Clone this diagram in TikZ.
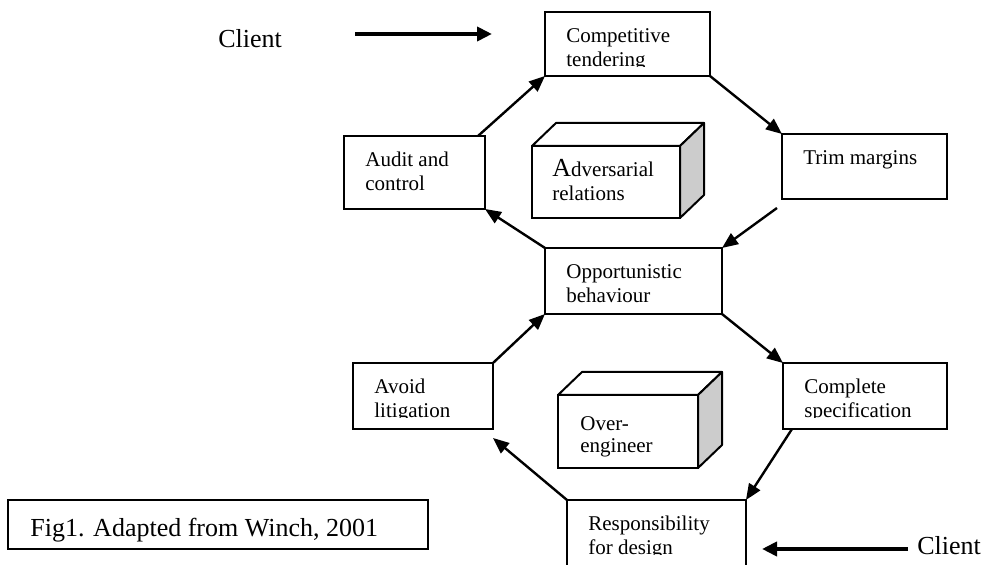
\documentclass[tikz,border=0pt]{standalone}
\usepackage{fontspec}
\setmainfont{Liberation Serif}
\usetikzlibrary{arrows.meta,positioning}

\tikzstyle{stage}=[draw, line width=1pt, inner sep=0pt, outer sep=0pt, anchor=north west]
\tikzstyle{stage-text}=[inner sep=0pt, anchor=north west, align=left,
                        font=\fontsize{10.5}{12}\selectfont]
\tikzstyle{cube-face}=[draw, line width=1pt, fill=white, line join=round]
\tikzstyle{cube-side}=[cube-face, fill=black!20]
\tikzstyle{big-text}=[inner sep=0pt, anchor=base west, font=\fontsize{13}{15.6}\selectfont]
\tikzstyle{cycle-edge}=[draw, line width=1.2pt, -{Triangle[length=8pt,width=6.5pt]}]
\tikzstyle{client-edge}=[draw, line width=2pt, -{Triangle[length=7.5pt,width=7pt]}]

\begin{document}
\begin{tikzpicture}[x=0.5pt, y=-0.5pt]
    \useasboundingbox (0,0) rectangle (982,565);
    % First we draw the boxes of the two loops
    \foreach \pos/\name/\w/\h in {{(545,12)/ct/82.5pt/32pt}, {(344,136)/ac/70.5pt/36.5pt},
        {(782,134)/tm/82.5pt/32.5pt}, {(545,248)/ob/88.5pt/33pt},
        {(353,363)/al/70pt/33pt}, {(783,363)/cs/82pt/33pt}, {(567,500)/rd/89.5pt/40pt}}
      \node[stage, minimum width=\w, minimum height=\h] (\name) at \pos {};
    \foreach \name/\txt in {ct/{Competitive\\tendering}, ac/{Audit and\\control},
        tm/{Trim margins}, ob/{Opportunistic\\behaviour}, al/{Avoid\\litigation},
        cs/{Complete\\specification}, rd/{Responsibility\\for design}} {
      \begin{scope}
        \clip (\name.north west) rectangle ([shift={(0,55)}]\name.north east);
        \node[stage-text] (\name-text) at ([shift={(21,16)}]\name.north west) {\txt};
      \end{scope}
    }
    % The two cubes inside the loops
    \foreach \pos/\name/\w/\h in {{(532,146)/adv/74pt/36pt}, {(558,395)/over/70pt/36.5pt}} {
      \node[stage, fill=white, minimum width=\w, minimum height=\h] (\name) at \pos {};
      \path[cube-face] (\name.north west) -- ++(24,-23)
        -- ([shift={(24,-23)}]\name.north east) -- (\name.north east) -- cycle;
      \path[cube-side] (\name.north east) -- ++(24,-23)
        -- ([shift={(24,-23)}]\name.south east) -- (\name.south east) -- cycle;
    }
    \node[stage-text] (adv-text) at ([shift={(20,13)}]adv.north west)
      {{\fontsize{13}{15}\selectfont A}dversarial\\relations};
    \node[stage-text, font=\fontsize{10.5}{11}\selectfont] (over-text)
      at ([shift={(22,21)}]over.north west) {Over-\\engineer};
    % Caption and clients
    \node[stage, minimum width=210pt, minimum height=24.5pt] (fig) at (8,500) {};
    \node[big-text] (fig-text) at (30,537) {Fig1. Adapted from Winch, 2001};
    \node[big-text] (client-top) at (218,48) {Client};
    \node[big-text] (client-bottom) at (917,555) {Client};
    % Connect the boxes round the loops
    \coordinate (ac-out) at ([shift={(-7,0)}]ac.north east);
    \coordinate (tm-out) at ([shift={(-5,9)}]tm.south west);
    \coordinate (cs-out) at ([shift={(9,0)}]cs.south west);
    \coordinate (al-in) at ([shift={(0,9)}]al.south east);
    \foreach \source/\dest in {ac-out/ct.south west, ct.south east/tm.north west,
        tm-out/ob.north east, ob.north west/ac.south east, ob.south east/cs.north west,
        cs-out/rd.north east, rd.north west/al-in, al.north east/ob.south west}
      \path[cycle-edge] (\source) -- (\dest);
    \coordinate (client-top-out) at (355,34);
    \coordinate (ct-in) at (492,34);
    \coordinate (client-bottom-out) at (908,549);
    \coordinate (rd-in) at (762,549);
    \path[client-edge] (client-top-out) -- (ct-in);
    \path[client-edge] (client-bottom-out) -- (rd-in);
\end{tikzpicture}
\end{document}
